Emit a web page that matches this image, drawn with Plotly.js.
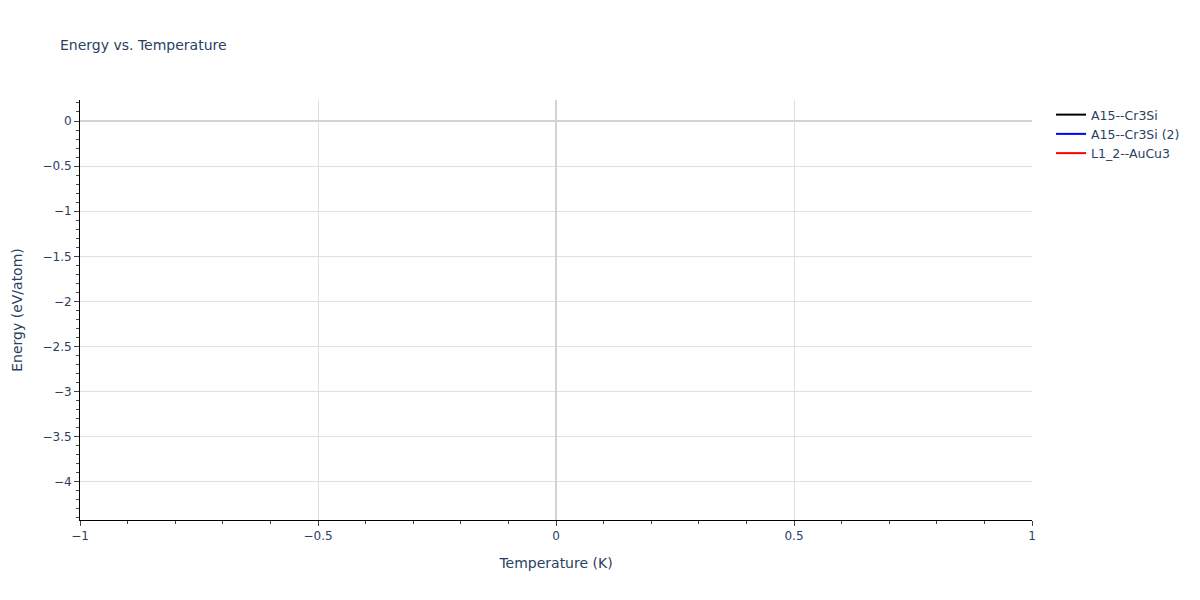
<!DOCTYPE html>
<html>
<head>
<meta charset="utf-8">
<script src="https://cdn.plot.ly/plotly-3.0.1.min.js"></script>
<style>
	html, body { margin: 0; padding: 0; background: #fff; }
	#chart { width: 1200px; height: 600px; }
</style>
</head>
<body>
<div id="chart"></div>
<script>
// one point per structure, all at T = 0 (lines mode, so nothing is drawn)
const seriesNames = ['A15--Cr3Si', 'A15--Cr3Si (2)', 'L1_2--AuCu3'];
const seriesColors = ['black', 'blue', 'red'];
const temperatures = [[0], [0], [0]];
const energies = [[-4.19], [-4.19], [0]];

const data = seriesNames.map((name, i) => ({
	x: temperatures[i],
	y: energies[i],
	name: name,
	type: 'scatter',
	mode: 'lines',
	line: { color: seriesColors[i], width: 2 },
}));

const axisStyle = {
	showline: true,
	linecolor: 'black',
	linewidth: 1,
	ticks: 'outside',
	ticklen: 5,
	tickcolor: '#444',
	showgrid: true,
	gridcolor: '#e0e0e0',
	zeroline: true,
	zerolinecolor: '#d3d3d3',
	zerolinewidth: 2,
	minor: { ticks: 'outside', dtick: 0.1, ticklen: 3, tickcolor: '#444', showgrid: false },
};

const layout = {
	font: { family: 'Verdana, "DejaVu Sans", sans-serif', size: 12, color: '#2a3f5f' },
	title: { text: 'Energy vs. Temperature', x: 0.05, xanchor: 'left', font: { size: 14 } },
	xaxis: { ...axisStyle, title: { text: 'Temperature (K)', font: { size: 14 }, standoff: 15 } },
	yaxis: { ...axisStyle, title: { text: 'Energy (eV/atom)', font: { size: 14 }, standoff: 16 } },
	legend: { font: { size: 12.5 } },
	margin: { l: 80, r: 168, t: 100, b: 80 },
	plot_bgcolor: 'white',
	paper_bgcolor: 'white',
	width: 1200,
	height: 600,
};

Plotly.newPlot('chart', data, layout, { displaylogo: false, displayModeBar: false });
</script>
</body>
</html>
